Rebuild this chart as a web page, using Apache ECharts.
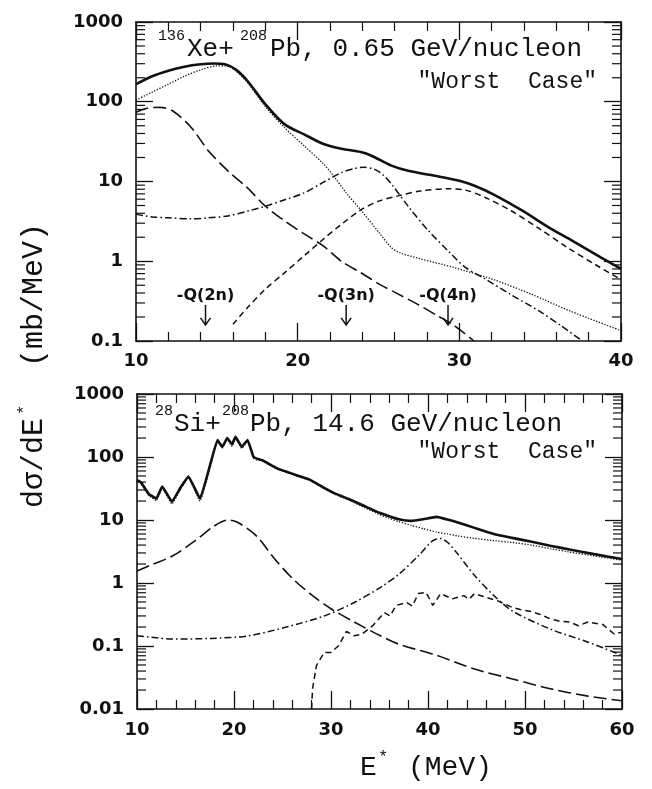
<!DOCTYPE html>
<html><head><meta charset="utf-8">
<script src="https://cdn.jsdelivr.net/npm/echarts@6/dist/echarts.min.js"></script>
<style>html,body{margin:0;padding:0;background:#fff}#wrap{position:relative;width:652px;height:789px}.layer{position:absolute;left:0;top:0;width:652px;height:789px}</style>
</head><body><div id="wrap"><div id="axes" class="layer"></div><div id="ticksTop" class="layer"></div><div id="ticksBot" class="layer"></div><div id="plot" class="layer"></div></div>
<script>
// ---------- top panel: 136Xe + 208Pb, 0.65 GeV/nucleon ----------
const topTotalE = [10, 11, 12, 13, 14, 14.8, 15.5, 16.2, 16.9, 18, 19.2, 20.4, 21.6, 22.7, 23.9, 24.6, 25.8, 26.9, 28.6, 30, 30.9, 32.1, 33.9, 35.6, 37, 38.8, 40];
const topTotal  = [166, 209, 245, 275, 295, 302, 295, 251, 182, 93, 52, 39, 29.5, 25.7, 23.4, 20.9, 15.8, 13.5, 11.7, 10.2, 8.9, 6.9, 4.3, 2.6, 1.8, 1.1, 0.8];
const topDottedE = [10, 11, 12, 13, 14, 15, 15.6, 16.2, 16.9, 18, 19.2, 20.4, 21.6, 22.3, 23, 23.9, 25.1, 25.8, 26.4, 27.4, 29.7, 32.1, 34.4, 36.8, 40];
const topDotted  = [105, 132, 166, 209, 251, 282, 282, 240, 174, 87, 47, 28, 16.6, 11.2, 7.2, 4.4, 2.2, 1.48, 1.26, 1.1, 0.83, 0.59, 0.39, 0.24, 0.135];
const topLongE = [10, 10.7, 11.5, 12.3, 13.4, 14.5, 15.7, 16.9, 18, 19.2, 20.4, 21.6, 22.7, 23.9, 25.1, 26.2, 27.4, 28.6, 29.7, 30.9];
const topLong  = [74, 83, 85, 76, 48, 24, 13.5, 8.3, 4.9, 3.2, 2.2, 1.55, 1.0, 0.72, 0.51, 0.39, 0.29, 0.21, 0.155, 0.1];
const topDashDotE = [10, 11, 12, 13.4, 14.5, 15.7, 17, 18, 19.2, 20.4, 21.6, 22.7, 23.5, 24.1, 24.8, 25.3, 25.8, 26.9, 28.1, 29.3, 30.4, 31.6, 33.2, 34.9, 36.3, 37.6];
const topDashDot  = [3.9, 3.6, 3.5, 3.4, 3.5, 3.7, 4.3, 4.9, 5.9, 7.2, 9.8, 12.9, 14.5, 15.1, 14.1, 12.0, 9.3, 4.7, 2.4, 1.35, 0.83, 0.6, 0.38, 0.24, 0.155, 0.1];
const topDashedE = [16, 16.9, 18, 19.2, 20.4, 21.6, 22.7, 23.9, 25.1, 26.2, 27.6, 29.3, 30.4, 31.6, 33.2, 34.9, 36.7, 38.4, 40];
const topDashed  = [0.162, 0.263, 0.447, 0.72, 1.17, 1.9, 2.9, 4.4, 5.75, 6.6, 7.6, 8.1, 7.8, 6.3, 4.3, 2.6, 1.48, 0.91, 0.59];
// -Q(xn) threshold arrows
const qArrowE = [14.3, 23.0, 29.3];
const qArrowLabels = ['-Q(2n)', '-Q(3n)', '-Q(4n)'];
const qArrowTop = 0.283, qArrowTip = 0.159, qLabelY = 0.366;

// ---------- bottom panel: 28Si + 208Pb, 14.6 GeV/nucleon ----------
const botTotalE = [10, 10.4, 11.2, 12.0, 12.6, 13.6, 14.5, 15.3, 16.5, 17.5, 18.3, 18.8, 19.3, 19.8, 20.15, 20.8, 21.4, 22.0, 22.3, 22.9, 24.45, 26.5, 27.9, 29.2, 30.5, 32, 33.5, 35, 36, 37, 38.3, 39.5, 40.9, 42, 43, 44.8, 46.8, 48.7, 50.7, 52.6, 54.6, 57, 60];
const botTotal  = [43, 40, 26, 22, 34, 19.5, 33, 49, 22, 71, 186, 145, 200, 158, 209, 145, 186, 101, 95, 89, 66, 51, 43, 33, 26, 21, 16.5, 13.0, 11.5, 10.3, 9.7, 10.3, 11.2, 10.2, 9.2, 7.5, 6.0, 5.2, 4.5, 3.9, 3.4, 2.9, 2.4];
const botDottedE = [10, 10.4, 11.2, 12.0, 12.6, 13.6, 14.5, 15.3, 16.5, 17.5, 18.3, 18.8, 19.3, 19.8, 20.15, 20.8, 21.4, 22.0, 22.3, 22.9, 24.45, 26.5, 27.9, 29.2, 30.5, 32, 33.5, 35, 36, 37, 38.3, 39.5, 40.9, 42, 43, 44.8, 46.8, 48.7, 50.7, 52.6, 54.6, 57, 60];
const botDotted  = [41, 38, 24.5, 20.5, 32, 18, 31, 47, 20, 68, 182, 140, 190, 148, 199, 137, 179, 96, 90, 86, 64, 50, 42, 32, 25.2, 20.3, 15.6, 12.2, 10.6, 9.4, 8.2, 7.3, 6.4, 6.0, 5.6, 5.1, 4.7, 4.4, 4.0, 3.5, 3.1, 2.7, 2.3];
const botLongE = [10, 11.5, 13.7, 16.0, 18.0, 19.4, 20.3, 22.3, 24.2, 26.1, 28.1, 30.0, 32.4, 35.1, 37.0, 40.9, 44.8, 48.7, 52.6, 56.5, 60];
const botLong  = [1.55, 1.95, 2.7, 4.7, 8.1, 10.0, 9.3, 5.6, 2.4, 1.15, 0.63, 0.39, 0.24, 0.145, 0.107, 0.071, 0.043, 0.030, 0.021, 0.016, 0.0135];
const botDashDotE = [10, 12, 13.7, 17.6, 21.5, 25.4, 29.3, 32.4, 35.1, 37, 39, 40.5, 41.3, 42.1, 42.9, 44.8, 46.8, 48.7, 52.6, 56.5, 60];
const botDashDot  = [0.145, 0.135, 0.129, 0.132, 0.145, 0.2, 0.30, 0.49, 0.85, 1.38, 2.7, 4.7, 5.1, 4.3, 3.1, 1.32, 0.63, 0.36, 0.186, 0.115, 0.071];
const botDashedE = [28.0, 28.1, 28.5, 29.3, 30, 30.8, 31.6, 32.4, 33.2, 34.3, 35.5, 36.1, 36.7, 37.8, 38.4, 39, 39.8, 40.5, 41.3, 42.5, 43.7, 44.2, 44.8, 46, 47.2, 48.7, 49.5, 50.7, 51.5, 52.6, 53.5, 54.6, 55.5, 56.5, 58, 59.2, 60];
const botDashed  = [0.0101, 0.021, 0.049, 0.079, 0.079, 0.102, 0.17, 0.145, 0.155, 0.21, 0.34, 0.30, 0.44, 0.49, 0.43, 0.68, 0.71, 0.44, 0.68, 0.56, 0.63, 0.55, 0.68, 0.59, 0.52, 0.41, 0.38, 0.35, 0.32, 0.27, 0.25, 0.24, 0.21, 0.24, 0.22, 0.155, 0.166];

// ---------- axes / tick labels ----------
const topX = {min: 10, max: 40, step: 10};
const botX = {min: 10, max: 60, step: 10};
const topY = {min: 0.1, max: 1000};
const botY = {min: 0.01, max: 1000};
const topYLabels = ['0.1', '1', '10', '100', '1000'];
const botYLabels = ['0.01', '0.1', '1', '10', '100', '1000'];
const topDecades = [0.1, 1, 10, 100];
const botDecades = [0.01, 0.1, 1, 10, 100];
const logMinorSteps = [2, 3, 4, 5, 6, 7, 8, 9];

const INK = '#111';
const pair = (E, V) => E.map((e, i) => [e, V[i]]);
const minorVals = decs => decs.flatMap(d => logMinorSteps.map(m => m * d));
const tickFont = {fontFamily: 'DejaVu Sans', fontWeight: 'bold', fontSize: 18, color: INK};
const GRIDS = [
  {left: 136, top: 22, width: 485, height: 319},
  {left: 137, top: 394, width: 485, height: 315}
];

// visible frame axes (bottom/left with labels, top/right mirrors)
function xAxes(grid, ext, margin) {
  const base = {
    gridIndex: grid, type: 'value', min: ext.min, max: ext.max, interval: ext.step,
    axisLine: {show: true, onZero: false, lineStyle: {color: INK, width: 1.6}},
    splitLine: {show: false}, axisTick: {show: true, inside: true, length: 18, lineStyle: {color: INK, width: 1.3}},
    minorTick: {show: true, splitNumber: 5, length: 9, lineStyle: {color: INK, width: 1.2}}
  };
  return [
    Object.assign({}, base, {position: 'bottom',
      axisLabel: Object.assign({show: true, margin: margin, showMinLabel: true, showMaxLabel: true}, tickFont)}),
    Object.assign({}, base, {position: 'top', axisLabel: {show: false}})
  ];
}
function yAxes(grid, ext, labels, offset) {
  const base = {
    gridIndex: grid, type: 'log', logBase: 10, min: ext.min, max: ext.max,
    axisLine: {show: true, onZero: false, lineStyle: {color: INK, width: 1.6}},
    splitLine: {show: false},
    axisTick: {show: true, inside: true, length: 17, lineStyle: {color: INK, width: 1.3}}
  };
  return [
    Object.assign({}, base, {position: 'left',
      axisLabel: Object.assign({show: true, margin: 13, showMinLabel: true, showMaxLabel: true,
        formatter: v => labels[Math.round(Math.log10(v)) + offset]}, tickFont)}),
    Object.assign({}, base, {position: 'right', axisLabel: {show: false}})
  ];
}
// hidden axes with the same scales, for the overlay layers
const hx = (g, ext) => ({gridIndex: g, type: 'value', min: ext.min, max: ext.max, interval: ext.step, show: false});
const hy = (g, ext) => ({gridIndex: g, type: 'log', logBase: 10, min: ext.min, max: ext.max, show: false});

function minorTickSeries(xMin, xMax, vals) {
  return {
    type: 'custom', xAxisIndex: 0, yAxisIndex: 0, silent: true, z: 5, clip: false,
    data: vals.map(v => [xMin, v]),
    renderItem: (params, api) => {
      const v = api.value(1);
      const a = api.coord([xMin, v]), b = api.coord([xMax, v]);
      const st = {stroke: INK, lineWidth: 1.2, fill: null};
      return {type: 'group', children: [
        {type: 'line', shape: {x1: a[0], y1: a[1], x2: a[0] + 9, y2: a[1]}, style: st},
        {type: 'line', shape: {x1: b[0], y1: b[1], x2: b[0] - 9, y2: b[1]}, style: st}
      ]};
    }
  };
}

function line(xi, yi, data, style, smooth) {
  return {
    type: 'line', xAxisIndex: xi, yAxisIndex: yi, data: data, symbol: 'none', showSymbol: false,
    smooth: smooth, lineStyle: Object.assign({color: INK}, style)
  };
}
const S_TOTAL = {width: 2.6, type: 'solid'};
const S_DOT = {width: 1.3, type: [1.3, 1.6]};
const S_LONG = {width: 1.6, type: [13, 5]};
const S_DASHDOT = {width: 1.5, type: [7, 3, 1.6, 3]};
const S_DASH = {width: 1.5, type: [6, 4]};

const arrowSeries = {
  type: 'custom', xAxisIndex: 0, yAxisIndex: 0, silent: true, z: 6, clip: false,
  data: qArrowE.map((e, i) => [e, qArrowTip, i]),
  renderItem: (params, api) => {
    const e = api.value(0), i = api.value(2);
    const t = api.coord([e, qArrowTop]), p = api.coord([e, qArrowTip]), l = api.coord([e, qLabelY]);
    const st = {stroke: INK, lineWidth: 1.5, fill: null};
    return {type: 'group', children: [
      {type: 'line', shape: {x1: t[0], y1: t[1], x2: p[0], y2: p[1]}, style: st},
      {type: 'polyline', shape: {points: [[p[0] - 5, p[1] - 7], [p[0], p[1]], [p[0] + 5, p[1] - 7]]}, style: st},
      {type: 'text', x: l[0], y: l[1], style: {text: qArrowLabels[i], fill: INK,
        font: 'bold 16px "DejaVu Sans"', align: 'center', verticalAlign: 'middle'}}
    ]};
  }
};

const MONO = '"Liberation Mono", "DejaVu Sans Mono", monospace';
function t(x, y, text, size, align, rot) {
  return {type: 'text', x: x, y: y, rotation: rot || 0, silent: true, z: 10,
    style: {text: text, font: size + 'px ' + MONO, fill: INK, align: align || 'left', verticalAlign: 'middle'}};
}
const R90 = Math.PI / 2;

// layer 1: frames, major/minor linear ticks, tick labels, top-panel total curve
echarts.init(document.getElementById('axes'), null, {renderer: 'canvas'}).setOption({
  animation: false, backgroundColor: '#fff', grid: GRIDS,
  xAxis: [...xAxes(0, topX, 11), ...xAxes(1, botX, 12)],
  yAxis: [...yAxes(0, topY, topYLabels, 1), ...yAxes(1, botY, botYLabels, 2)],
  series: [line(0, 0, pair(topTotalE, topTotal), S_TOTAL, 0.3)]
});

// layers 2-3: logarithmic minor ticks of each panel
echarts.init(document.getElementById('ticksTop'), null, {renderer: 'canvas'}).setOption({
  animation: false, backgroundColor: 'transparent', grid: [GRIDS[0]],
  xAxis: [hx(0, topX)], yAxis: [hy(0, topY)],
  series: [minorTickSeries(topX.min, topX.max, minorVals(topDecades))]
});
echarts.init(document.getElementById('ticksBot'), null, {renderer: 'canvas'}).setOption({
  animation: false, backgroundColor: 'transparent', grid: [GRIDS[1]],
  xAxis: [hx(0, botX)], yAxis: [hy(0, botY)],
  series: [minorTickSeries(botX.min, botX.max, minorVals(botDecades))]
});

// layer 4: component curves, arrows and text
echarts.init(document.getElementById('plot'), null, {renderer: 'canvas'}).setOption({
  animation: false, backgroundColor: 'transparent', grid: GRIDS,
  xAxis: [hx(0, topX), hx(1, botX)],
  yAxis: [hy(0, topY), hy(1, botY)],
  series: [
    line(0, 0, pair(topDottedE, topDotted), S_DOT, 0.3),
    line(0, 0, pair(topLongE, topLong), S_LONG, 0.3),
    line(0, 0, pair(topDashDotE, topDashDot), S_DASHDOT, 0.3),
    line(0, 0, pair(topDashedE, topDashed), S_DASH, 0.3),
    line(1, 1, pair(botTotalE, botTotal), S_TOTAL, 0.1),
    line(1, 1, pair(botDottedE, botDotted), S_DOT, 0.1),
    line(1, 1, pair(botLongE, botLong), S_LONG, 0.3),
    line(1, 1, pair(botDashDotE, botDashDot), S_DASHDOT, 0.3),
    line(1, 1, pair(botDashedE, botDashed), S_DASH, false),
    arrowSeries
  ],
  graphic: [
    t(158, 36, '136', 15), t(187, 49, 'Xe+', 26), t(240, 36, '208', 15), t(270, 49, 'Pb, 0.65 GeV/nucleon', 26),
    t(597, 82, '"Worst  Case"', 23, 'right'),
    t(155, 411, '28', 15), t(174, 424, 'Si+', 26), t(222, 411, '208', 15), t(250, 424, 'Pb, 14.6 GeV/nucleon', 26),
    t(597, 452, '"Worst  Case"', 23, 'right'),
    t(34, 295, '(mb/MeV)', 30, 'center', R90),
    t(34, 463, 'dσ/dE', 30, 'center', R90),
    t(24, 410, '*', 17, 'center', R90),
    t(360, 768, 'E', 28), t(378, 757, '*', 17), t(408, 768, '(MeV)', 28)
  ]
});
</script></body></html>
